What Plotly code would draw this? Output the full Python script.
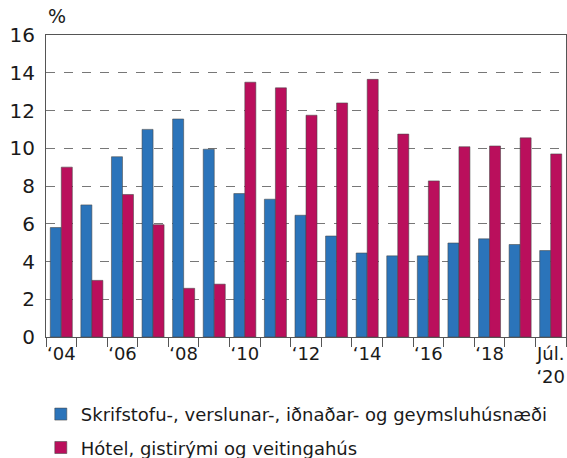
import plotly.graph_objects as go

years = ["2004", "2005", "2006", "2007", "2008", "2009", "2010", "2011", "2012",
         "2013", "2014", "2015", "2016", "2017", "2018", "2019", "2020"]
tick_labels = ["‘04", "", "‘06", "", "‘08", "", "‘10", "", "‘12", "", "‘14", "",
               "‘16", "", "‘18", "", "Júl.<br>‘20"]
office = [5.8, 7.0, 9.55, 11.0, 11.55, 9.95, 7.6, 7.3, 6.45, 5.35, 4.45, 4.3, 4.3,
          4.98, 5.2, 4.9, 4.58]
hotel = [9.0, 3.0, 7.55, 5.95, 2.58, 2.8, 13.5, 13.2, 11.75, 12.4, 13.65, 10.75,
         8.27, 10.08, 10.12, 10.55, 9.7]
names = ["Skrifstofu-, verslunar-, iðnaðar- og geymsluhúsnæði",
         "Hótel, gistirými og veitingahús"]

font = "DejaVu Sans"
fig = go.Figure()
fig.add_trace(go.Bar(x=years, y=office, name=names[0], legendgroup="a",
                     marker=dict(color="#2B74BA", line=dict(color="rgba(70,70,70,0.7)", width=0.8))))
fig.add_trace(go.Bar(x=years, y=hotel, name=names[1], legendgroup="b",
                     marker=dict(color="#BA0F5C", line=dict(color="rgba(70,70,70,0.7)", width=0.8))))

fig.update_layout(
    width=567, height=458,
    margin=dict(l=46, r=1, t=35, b=121, autoexpand=False),
    paper_bgcolor="white", plot_bgcolor="white",
    barmode="group", bargap=0.28, bargroupgap=0,
    font=dict(family=font, size=18, color="#1a1a1a"),
    showlegend=True,
    legend=dict(orientation="v", x=-0.01, xanchor="left", y=-0.195, yanchor="top",
                traceorder="grouped", tracegroupgap=7, font=dict(size=18),
                itemwidth=30),
    xaxis=dict(type="category", tickmode="array", tickvals=years, ticktext=tick_labels,
               tickson="boundaries", ticks="outside", ticklen=9, tickcolor="#555",
               tickangle=0, automargin=False,
               showgrid=False, showline=True, linecolor="#555", linewidth=1.2,
               mirror=True, range=[-0.5, 16.5], tickfont=dict(size=18)),
    yaxis=dict(range=[0, 16], dtick=2, tick0=0, showgrid=True, gridcolor="#777",
               griddash="dash", gridwidth=1, showline=True, linecolor="#555",
               linewidth=1.2, mirror=True, ticks="", tickfont=dict(size=20),
               zeroline=False, ticklabelstandoff=6, automargin=False),
    annotations=[dict(text="%", xref="paper", yref="paper", x=0, y=1, xanchor="left",
                      yanchor="bottom", yshift=6, showarrow=False, font=dict(size=19))],
)
fig.write_html("out.html", config={"displayModeBar": False},
               post_script="document.body.style.margin='0px';")
